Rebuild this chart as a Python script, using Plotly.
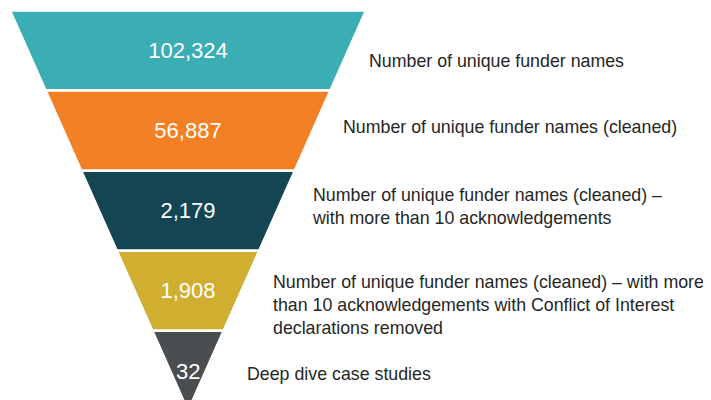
"""Funnel of funder-name cleaning stages."""

import plotly.graph_objects as go

stage_counts = [102324, 56887, 2179, 1908, 32]
stage_labels = [
    "Number of unique funder names",
    "Number of unique funder names (cleaned)",
    "Number of unique funder names (cleaned) –<br>with more than 10 acknowledgements",
    "Number of unique funder names (cleaned) – with more<br>than 10 acknowledgements with Conflict of Interest<br>declarations removed",
    "Deep dive case studies",
]
# the drawing is a plain triangle cut in equal-height bands, so the area of
# each band (not the counts) sets the section sizes
band_area = [9, 7, 5, 3, 1]

STAGE_COLORS = ["#3BADB4", "#F38024", "#144552", "#CFAE30", "#4B4E51"]
FONT = "Liberation Sans, Arial, sans-serif"

W, H = 711, 400
PAGE_OFFSET = 8  # the page body adds an 8px margin around the figure

# label placement on screen: left edge and vertical middle (px)
LABEL_X = [369, 343, 312, 273, 247]
LABEL_Y = [61, 127, 206, 305, 373.5]


def px_x(v):
    return (v - PAGE_OFFSET) / W


def px_y(v):
    return (H - (v - PAGE_OFFSET)) / H


texts = [f"{v:,}" for v in stage_counts]
texts[-1] = ""  # the tip is too narrow for plotly's own text, drawn below

fig = go.Figure(
    go.Funnelarea(
        values=band_area,
        text=texts,
        textinfo="text",
        textfont=dict(color="white", size=22, family=FONT),
        marker=dict(colors=STAGE_COLORS, line=dict(color="white", width=2.5)),
        baseratio=0.0075,
        aspectratio=1.1166,
        domain=dict(x=[px_x(10), px_x(366)], y=[0, px_y(10.5)]),
        hoverinfo="skip",
        showlegend=False,
    )
)

fig.add_annotation(
    x=px_x(188), y=px_y(371), xref="paper", yref="paper",
    xanchor="center", yanchor="middle",
    text=f"{stage_counts[-1]:,}", showarrow=False,
    font=dict(color="white", size=22, family=FONT),
)

for label, lx, ly in zip(stage_labels, LABEL_X, LABEL_Y):
    fig.add_annotation(
        x=px_x(lx - 2), y=px_y(ly), xref="paper", yref="paper",
        text=label, showarrow=False, xanchor="left", yanchor="middle",
        align="left", font=dict(color="#262626", size=17.8, family=FONT),
    )

fig.update_layout(
    width=W,
    height=H,
    margin=dict(l=0, r=0, t=0, b=0),
    paper_bgcolor="white",
    plot_bgcolor="white",
)

fig.write_html("out.html")
